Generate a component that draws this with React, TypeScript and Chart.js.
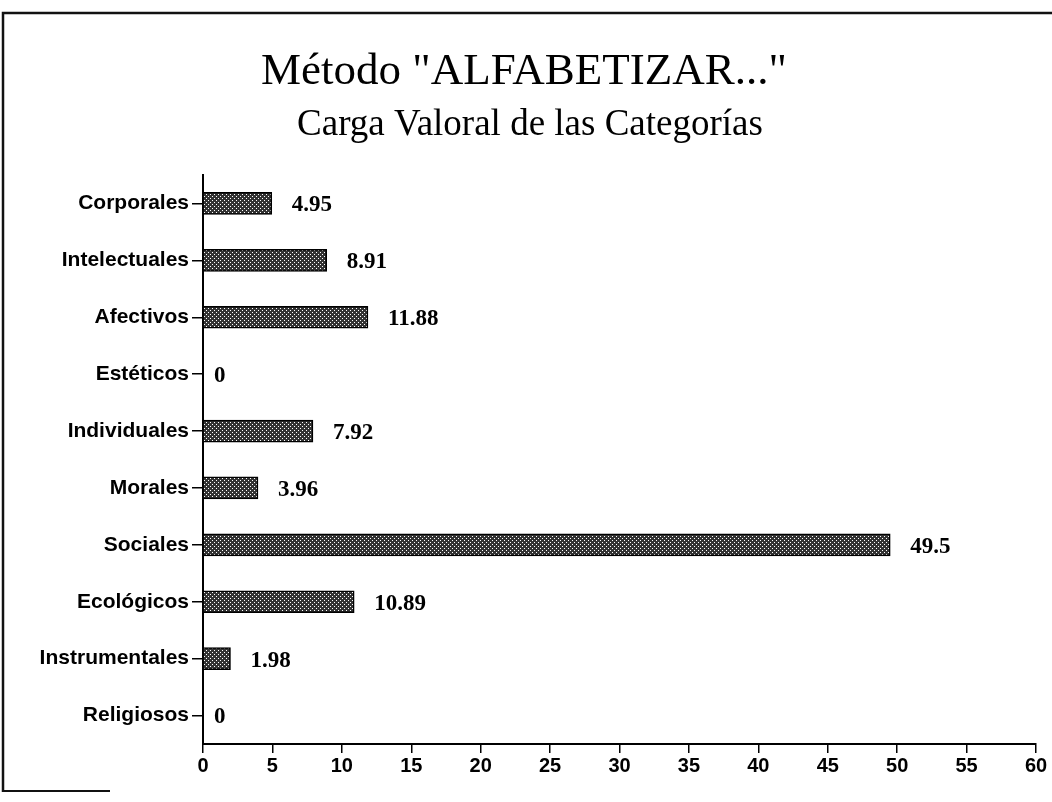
import React, { useEffect, useRef } from "react";
import { Chart, registerables } from "chart.js";

Chart.register(...registerables);

const titleText = "Método \"ALFABETIZAR...\"";
const subtitleText = "Carga Valoral de las Categorías";
const categories = [
  "Corporales",
  "Intelectuales",
  "Afectivos",
  "Estéticos",
  "Individuales",
  "Morales",
  "Sociales",
  "Ecológicos",
  "Instrumentales",
  "Religiosos",
];
const values = [4.95, 8.91, 11.88, 0, 7.92, 3.96, 49.5, 10.89, 1.98, 0];
const valueLabels = ["4.95", "8.91", "11.88", "0", "7.92", "3.96", "49.5", "10.89", "1.98", "0"];
const xMin = 0;
const xMax = 60;
const xStep = 5;

function makePattern(): CanvasPattern | string {
  const c = document.createElement("canvas");
  c.width = 4;
  c.height = 4;
  const ctx = c.getContext("2d");
  if (!ctx) return "#444";
  ctx.fillStyle = "#333";
  ctx.fillRect(0, 0, 4, 4);
  ctx.fillStyle = "#fff";
  ctx.fillRect(0, 0, 1, 1);
  ctx.fillRect(2, 2, 1, 1);
  const p = ctx.createPattern(c, "repeat");
  return p || "#444";
}

const decorPlugin = {
  id: "decor",
  beforeDraw(chart: any) {
    const ctx = chart.ctx;
    ctx.save();
    ctx.fillStyle = "#fff";
    ctx.fillRect(0, 0, chart.width, chart.height);
    ctx.strokeStyle = "#111";
    ctx.lineWidth = 2.5;
    ctx.beginPath();
    ctx.moveTo(3, 792);
    ctx.lineTo(3, 13);
    ctx.lineTo(chart.width, 13);
    ctx.stroke();
    ctx.lineWidth = 2;
    ctx.beginPath();
    ctx.moveTo(3, 791);
    ctx.lineTo(110, 791);
    ctx.stroke();
    ctx.fillStyle = "#000";
    ctx.textAlign = "center";
    ctx.textBaseline = "alphabetic";
    ctx.font = "45px 'Liberation Serif', 'DejaVu Serif', serif";
    ctx.fillText(titleText, 524, 84);
    ctx.font = "37px 'Liberation Serif', 'DejaVu Serif', serif";
    ctx.fillText(subtitleText, 530, 135);
    ctx.restore();
  },
  afterDatasetsDraw(chart: any) {
    const ctx = chart.ctx;
    const meta = chart.getDatasetMeta(0);
    ctx.save();
    ctx.fillStyle = "#000";
    ctx.font = "bold 23px 'Liberation Serif', 'DejaVu Serif', serif";
    ctx.textAlign = "left";
    ctx.textBaseline = "middle";
    meta.data.forEach((el: any, i: number) => {
      const off = values[i] === 0 ? 11 : 20;
      ctx.fillText(valueLabels[i], el.x + off, el.y + 2);
    });
    ctx.restore();
  },
};

export default function App() {
  const ref = useRef<HTMLCanvasElement>(null);
  useEffect(() => {
    if (!ref.current) return;
    const chart = new Chart(ref.current, {
      type: "bar",
      data: {
        labels: categories,
        datasets: [
          {
            data: values,
            backgroundColor: makePattern() as any,
            borderColor: "#000",
            borderWidth: 1.5,
            borderSkipped: "left",
            barThickness: 22,
          },
        ],
      },
      options: {
        indexAxis: "y",
        animation: false,
        responsive: false,
        maintainAspectRatio: false,
        layout: { padding: { top: 175, right: 16, left: 0, bottom: 0 } },
        plugins: {
          legend: { display: false },
          tooltip: { enabled: false },
          title: { display: false },
        },
        scales: {
          x: {
            min: xMin,
            max: xMax,
            ticks: {
              stepSize: xStep,
              color: "#000",
              font: { family: "'Liberation Sans', Arial, sans-serif", size: 20, weight: "bold" },
              padding: 1,
            },
            grid: {
              drawOnChartArea: false,
              drawTicks: true,
              tickLength: 9,
              color: "#000",
              lineWidth: 1.5,
            },
            border: { display: true, color: "#000", width: 2 },
            afterFit(scale: any) {
              scale.height = 802 - 744;
            },
          },
          y: {
            offset: true,
            ticks: {
              color: "#000",
              font: { family: "'Liberation Sans', Arial, sans-serif", size: 21, weight: "bold" },
              padding: 3,
            },
            grid: {
              drawOnChartArea: false,
              drawTicks: true,
              tickLength: 11,
              color: "#000",
              lineWidth: 1.5,
              offset: false,
            },
            border: { display: true, color: "#000", width: 2 },
            afterFit(scale: any) {
              scale.width = 203;
            },
          },
        },
      },
      plugins: [decorPlugin],
    });
    return () => chart.destroy();
  }, []);
  return (
    <div style={{ position: "fixed", left: 0, top: 0, width: 1052, height: 802, background: "#fff" }}>
      <canvas ref={ref} width={1052} height={802} style={{ display: "block", width: 1052, height: 802 }} />
    </div>
  );
}
